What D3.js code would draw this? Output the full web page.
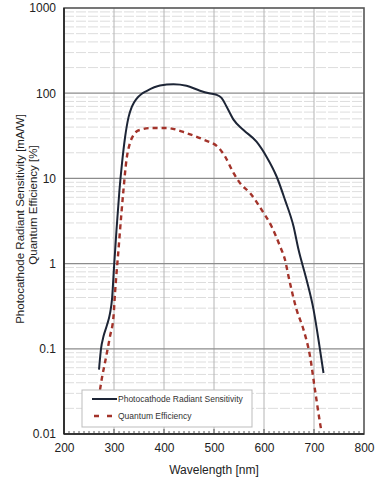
<!DOCTYPE html>
<html>
<head>
<meta charset="utf-8">
<script src="https://cdn.jsdelivr.net/npm/d3@7"></script>
<style>
	body { margin: 0; background: #fff; }
	svg { display: block; font-family: "Liberation Sans", Arial, sans-serif; }
</style>
</head>
<body>
<svg id="chart" width="377" height="482"></svg>
<script>
// wavelength [nm] / radiant sensitivity [mA/W]
var sens_wl = [270, 274, 279, 286, 292, 296, 300, 305, 311, 316, 322, 329, 336, 345, 355, 365, 392, 419, 445, 472, 490, 505, 515, 525, 539, 559, 585, 605, 625, 642, 659, 669, 685, 699, 711, 719];
var sens_val = [0.057, 0.10, 0.14, 0.19, 0.26, 0.38, 0.9, 2.5, 7.4, 15, 30, 52, 70, 86, 98, 106, 123, 127, 122, 107, 100, 96, 88, 70, 49, 37, 27, 18, 10.6, 5.6, 2.74, 1.46, 0.65, 0.29, 0.107, 0.052];
// wavelength [nm] / quantum efficiency [%]
var qe_wl = [272, 276, 282, 292, 299, 302, 309, 315, 319, 325, 332, 338, 345, 355, 372, 405, 445, 479, 509, 522, 539, 552, 572, 595, 615, 632, 642, 649, 665, 679, 692, 702, 712, 715];
var qe_val = [0.033, 0.046, 0.069, 0.14, 0.24, 0.45, 1.46, 4, 7.4, 16.6, 26, 31.5, 35.5, 37.5, 39, 39, 34, 28.5, 23, 18.1, 11.6, 8.8, 6.75, 4.3, 2.74, 1.6, 1.11, 0.71, 0.29, 0.168, 0.082, 0.033, 0.0135, 0.0106];

var x_ticks = [200, 300, 400, 500, 600, 700, 800];
var y_ticks = [0.01, 0.1, 1, 10, 100, 1000];
var y_labels = ['0.01', '0.1', '1', '10', '100', '1000'];
var legend_names = ['Photocathode Radiant Sensitivity', 'Quantum Efficiency'];

drawChart();

function drawChart() {
	var svg = d3.select('#chart');
	var p_left = 64, p_right = 364, p_top = 8, p_bottom = 434;

	var x = d3.scaleLinear().domain([200, 800]).range([p_left, p_right]);
	var y = d3.scaleLog().domain([0.01, 1000]).range([p_bottom, p_top]);

	//minor horizontal grid (log minors)
	var minors = [];
	y_ticks.slice(0, -1).forEach(function(d) {
		for (var k = 2; k <= 9; k++) minors.push(d * k);
	});
	svg.append('g').selectAll('line').data(minors).join('line')
		.attr('x1', p_left).attr('x2', p_right)
		.attr('y1', d => y(d)).attr('y2', d => y(d))
		.style('stroke', '#d4d4d4').style('stroke-width', 0.8)
		.style('stroke-dasharray', '10,2');

	//vertical grid
	svg.append('g').selectAll('line').data(x_ticks.slice(1, -1)).join('line')
		.attr('x1', d => x(d)).attr('x2', d => x(d))
		.attr('y1', p_top).attr('y2', p_bottom)
		.style('stroke', '#b4b4b4').style('stroke-width', 1);

	//major horizontal grid
	svg.append('g').selectAll('line').data(y_ticks.slice(1, -1)).join('line')
		.attr('x1', p_left).attr('x2', p_right)
		.attr('y1', d => y(d)).attr('y2', d => y(d))
		.style('stroke', '#8c8c8c').style('stroke-width', 1.2);

	//frame
	svg.append('rect')
		.attr('x', p_left).attr('y', p_top)
		.attr('width', p_right - p_left).attr('height', p_bottom - p_top)
		.style('fill', 'none').style('stroke', '#555').style('stroke-width', 1.6);
	svg.append('line').attr('x1', p_left).attr('x2', p_left).attr('y1', p_top).attr('y2', p_bottom)
		.style('stroke', '#222').style('stroke-width', 1.6);
	svg.append('line').attr('x1', p_left).attr('x2', p_right).attr('y1', p_bottom).attr('y2', p_bottom)
		.style('stroke', '#222').style('stroke-width', 1.6);

	//bottom minor ticks every 10 nm
	svg.append('g').selectAll('line').data(d3.range(210, 800, 10)).join('line')
		.attr('x1', d => x(d)).attr('x2', d => x(d))
		.attr('y1', p_bottom).attr('y2', d => d % 100 === 0 ? p_bottom - 5 : p_bottom - 3)
		.style('stroke', '#333').style('stroke-width', 0.8);

	//axes labels
	var xAxis = svg.append('g')
		.attr('transform', 'translate(0,' + (p_bottom + 5) + ')')
		.call(d3.axisBottom(x).tickValues(x_ticks).tickSize(0).tickPadding(4));
	xAxis.select('.domain').remove();
	xAxis.selectAll('text').style('font-size', '12px').style('fill', '#222')
		.style('font-family', '"Liberation Sans", Arial, sans-serif');

	var yAxis = svg.append('g')
		.attr('transform', 'translate(' + (p_left - 8) + ',0)')
		.call(d3.axisLeft(y).tickValues(y_ticks).tickFormat((d, i) => y_labels[i]).tickSize(0).tickPadding(0));
	yAxis.select('.domain').remove();
	yAxis.selectAll('text').style('font-size', '12px').style('fill', '#222')
		.style('font-family', '"Liberation Sans", Arial, sans-serif');

	svg.append('text')
		.attr('x', (p_left + p_right) / 2).attr('y', 474)
		.attr('text-anchor', 'middle')
		.style('font-size', '12px').style('fill', '#222')
		.text('Wavelength [nm]');

	svg.append('text')
		.attr('transform', 'translate(24,219) rotate(-90)')
		.attr('text-anchor', 'middle')
		.style('font-size', '11.5px').style('fill', '#222')
		.text('Photocathode Radiant Sensitivity [mA/W]');
	svg.append('text')
		.attr('transform', 'translate(37,205) rotate(-90)')
		.attr('text-anchor', 'middle')
		.style('font-size', '11.5px').style('fill', '#222')
		.text('Quantum Efficiency [%]');

	//curves
	var line = d3.line().x(d => x(d[0])).y(d => y(d[1])).curve(d3.curveMonotoneX);

	svg.append('path')
		.attr('d', line(d3.zip(qe_wl, qe_val)))
		.style('fill', 'none').style('stroke', '#a3332a').style('stroke-width', 2.4)
		.style('stroke-dasharray', '5,4');

	svg.append('path')
		.attr('d', line(d3.zip(sens_wl, sens_val)))
		.style('fill', 'none').style('stroke', '#1d2536').style('stroke-width', 2);

	//legend
	var lg = svg.append('g');
	lg.append('rect')
		.attr('x', 82).attr('y', 390).attr('width', 170).attr('height', 37)
		.style('fill', '#fff').style('stroke', '#bdbdbd').style('stroke-width', 1);
	lg.append('line').attr('x1', 92).attr('x2', 117).attr('y1', 399).attr('y2', 399)
		.style('stroke', '#1d2536').style('stroke-width', 2);
	lg.append('line').attr('x1', 94).attr('x2', 116).attr('y1', 416).attr('y2', 416)
		.style('stroke', '#a3332a').style('stroke-width', 2.4).style('stroke-dasharray', '5,8');
	lg.selectAll('text').data(legend_names).join('text')
		.attr('x', 118).attr('y', (d, i) => 402 + i * 17)
		.style('font-size', '8.5px').style('fill', '#333')
		.text(d => d);
}
</script>
</body>
</html>
